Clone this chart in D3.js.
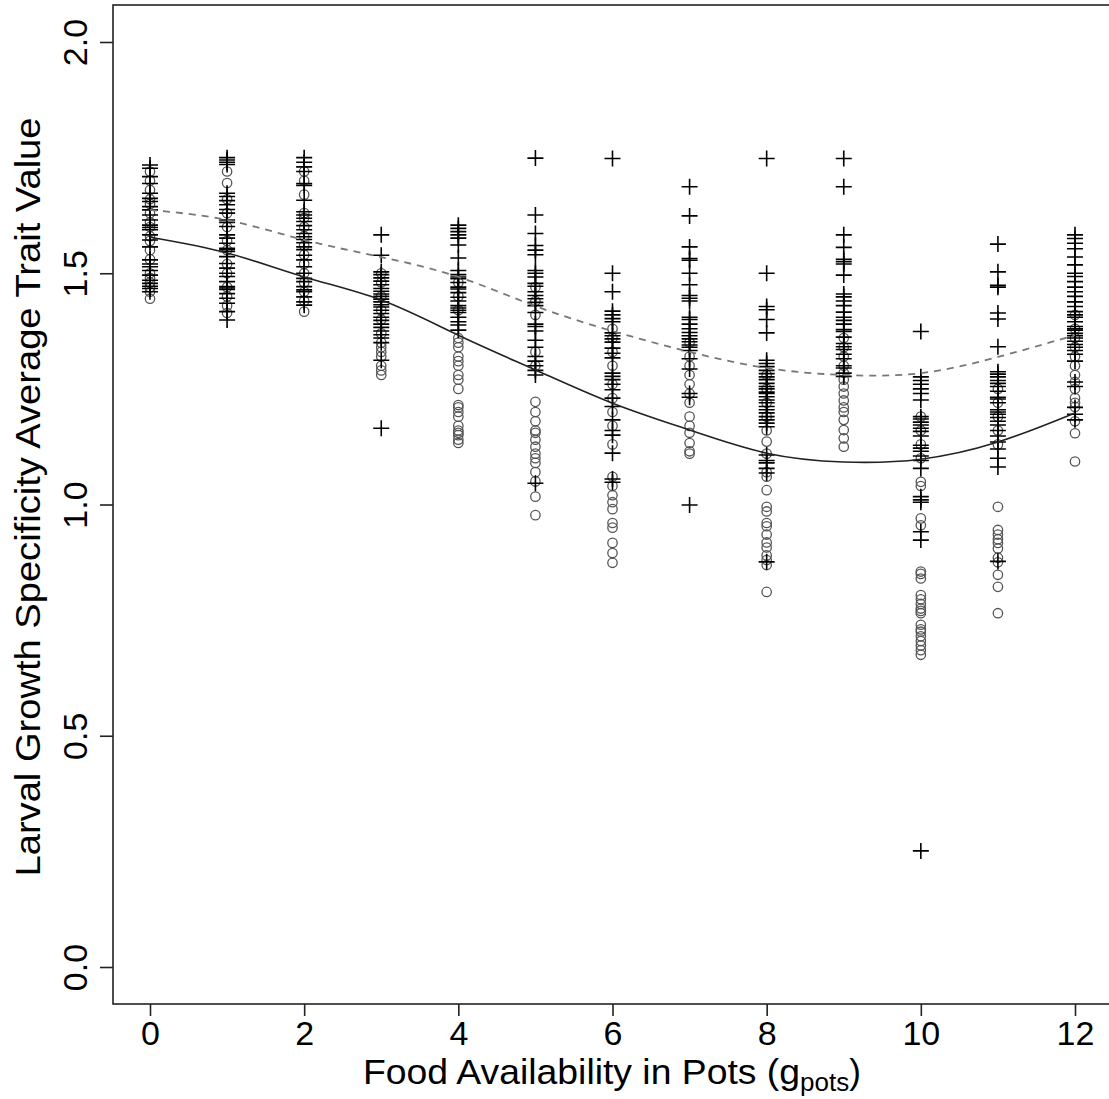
<!DOCTYPE html>
<html>
<head>
<meta charset="utf-8">
<script src="https://cdn.jsdelivr.net/npm/d3@7"></script>
<style>
  body { margin: 0; background: #fff; }
  text { font-family: "Liberation Sans", Arial, sans-serif; fill: #000; }
</style>
</head>
<body>
<div id="chart"></div>
<script>
// food levels (g pots) on the x axis
var foodLevels = [0, 1, 2, 3, 4, 5, 6, 7, 8, 9, 10, 11, 12];

// "+" points, one list per food level
var crossVals = [
  [1.734, 1.727, 1.709, 1.694, 1.673, 1.662, 1.655, 1.644, 1.637, 1.626, 1.615, 1.604, 1.599, 1.594, 1.583, 1.572, 1.557, 1.529, 1.52, 1.514, 1.506, 1.496, 1.485, 1.478, 1.472, 1.467, 1.46],
  [1.75, 1.745, 1.74, 1.735, 1.673, 1.666, 1.657, 1.648, 1.638, 1.63, 1.615, 1.61, 1.601, 1.583, 1.576, 1.565, 1.554, 1.551, 1.547, 1.536, 1.521, 1.511, 1.5, 1.493, 1.482, 1.471, 1.468, 1.465, 1.456, 1.446, 1.435, 1.417, 1.399],
  [1.75, 1.74, 1.73, 1.72, 1.694, 1.69, 1.658, 1.633, 1.626, 1.619, 1.612, 1.603, 1.594, 1.586, 1.579, 1.573, 1.566, 1.557, 1.551, 1.539, 1.529, 1.514, 1.5, 1.489, 1.482, 1.471, 1.464, 1.46, 1.449, 1.438, 1.431],
  [1.583, 1.539, 1.503, 1.497, 1.49, 1.483, 1.475, 1.467, 1.461, 1.455, 1.45, 1.444, 1.438, 1.432, 1.427, 1.42, 1.413, 1.405, 1.398, 1.39, 1.383, 1.375, 1.367, 1.36, 1.35, 1.312, 1.165],
  [1.604, 1.597, 1.59, 1.583, 1.576, 1.561, 1.533, 1.506, 1.497, 1.492, 1.488, 1.48, 1.47, 1.466, 1.458, 1.448, 1.44, 1.43, 1.425, 1.42, 1.415, 1.405, 1.395, 1.388, 1.377],
  [1.749, 1.626, 1.586, 1.56, 1.55, 1.54, 1.506, 1.5, 1.492, 1.478, 1.472, 1.46, 1.452, 1.445, 1.437, 1.43, 1.415, 1.39, 1.385, 1.375, 1.355, 1.34, 1.32, 1.31, 1.3, 1.29, 1.28, 1.046],
  [1.748, 1.5, 1.46, 1.418, 1.41, 1.402, 1.395, 1.371, 1.365, 1.358, 1.351, 1.338, 1.327, 1.317, 1.284, 1.277, 1.27, 1.26, 1.248, 1.23, 1.212, 1.183, 1.16, 1.15, 1.111, 1.055, 1.048],
  [1.687, 1.624, 1.557, 1.532, 1.528, 1.5, 1.475, 1.452, 1.446, 1.44, 1.405, 1.4, 1.39, 1.38, 1.372, 1.365, 1.358, 1.352, 1.345, 1.34, 1.333, 1.315, 1.293, 1.24, 1.232, 0.999],
  [1.748, 1.5, 1.428, 1.421, 1.4, 1.371, 1.312, 1.305, 1.298, 1.29, 1.283, 1.276, 1.27, 1.262, 1.255, 1.25, 1.243, 1.24, 1.233, 1.226, 1.22, 1.212, 1.205, 1.198, 1.19, 1.183, 1.176, 1.168, 1.107, 1.095, 1.09, 1.078, 1.068, 0.876],
  [1.748, 1.687, 1.583, 1.556, 1.53, 1.525, 1.52, 1.496, 1.455, 1.449, 1.44, 1.43, 1.416, 1.405, 1.398, 1.39, 1.378, 1.374, 1.362, 1.348, 1.341, 1.335, 1.325, 1.315, 1.3, 1.295, 1.284, 1.277],
  [1.374, 1.276, 1.268, 1.26, 1.25, 1.24, 1.226, 1.19, 1.185, 1.178, 1.172, 1.165, 1.158, 1.148, 1.128, 1.122, 1.115, 1.105, 1.095, 1.078, 1.017, 1.01, 1.005, 0.941, 0.923, 0.251],
  [1.563, 1.503, 1.474, 1.47, 1.414, 1.401, 1.341, 1.287, 1.282, 1.276, 1.268, 1.262, 1.255, 1.245, 1.232, 1.228, 1.22, 1.205, 1.2, 1.195, 1.188, 1.18, 1.172, 1.16, 1.148, 1.135, 1.12, 1.1, 1.081, 0.877],
  [1.583, 1.575, 1.565, 1.553, 1.535, 1.518, 1.5, 1.493, 1.482, 1.47, 1.46, 1.45, 1.438, 1.428, 1.417, 1.41, 1.405, 1.395, 1.385, 1.38, 1.377, 1.37, 1.365, 1.36, 1.353, 1.346, 1.34, 1.333, 1.325, 1.31, 1.265, 1.255, 1.21, 1.195, 1.183]
];

// open circle points, one list per food level
var circleVals = [
  [1.72, 1.7, 1.68, 1.66, 1.65, 1.63, 1.61, 1.6, 1.58, 1.57, 1.55, 1.53, 1.5, 1.49, 1.48, 1.47, 1.46, 1.445],
  [1.72, 1.695, 1.66, 1.63, 1.6, 1.57, 1.55, 1.52, 1.5, 1.47, 1.45, 1.43, 1.414],
  [1.72, 1.7, 1.67, 1.63, 1.62, 1.6, 1.58, 1.56, 1.54, 1.52, 1.5, 1.48, 1.46, 1.44, 1.417],
  [1.5, 1.48, 1.45, 1.42, 1.4, 1.37, 1.35, 1.34, 1.33, 1.32, 1.3, 1.29, 1.28],
  [1.48, 1.45, 1.42, 1.36, 1.35, 1.34, 1.32, 1.31, 1.3, 1.28, 1.27, 1.25, 1.215, 1.21, 1.2, 1.19, 1.17, 1.16, 1.155, 1.15, 1.14, 1.133],
  [1.47, 1.44, 1.41, 1.33, 1.3, 1.222, 1.2, 1.18, 1.16, 1.155, 1.14, 1.125, 1.11, 1.1, 1.09, 1.07, 1.05, 1.017, 0.977],
  [1.38, 1.36, 1.33, 1.3, 1.26, 1.23, 1.2, 1.17, 1.13, 1.06, 1.04, 1.02, 1.005, 0.99, 0.96, 0.95, 0.917, 0.895, 0.874],
  [1.35, 1.32, 1.3, 1.28, 1.26, 1.24, 1.22, 1.19, 1.17, 1.155, 1.133, 1.115, 1.11],
  [1.28, 1.25, 1.22, 1.19, 1.16, 1.136, 1.11, 1.07, 1.06, 1.031, 0.995, 0.985, 0.96, 0.953, 0.935, 0.918, 0.907, 0.89, 0.88, 0.869, 0.811],
  [1.36, 1.34, 1.32, 1.3, 1.285, 1.27, 1.255, 1.24, 1.225, 1.21, 1.2, 1.183, 1.161, 1.143, 1.125],
  [1.19, 1.16, 1.13, 1.1, 1.049, 1.04, 0.97, 0.955, 0.855, 0.85, 0.84, 0.804, 0.795, 0.785, 0.775, 0.77, 0.765, 0.74, 0.73, 0.725, 0.715, 0.705, 0.695, 0.685, 0.675],
  [1.25, 1.22, 1.19, 1.16, 1.13, 0.995, 0.945, 0.935, 0.925, 0.917, 0.905, 0.885, 0.875, 0.848, 0.822, 0.765],
  [1.41, 1.38, 1.36, 1.34, 1.32, 1.3, 1.28, 1.265, 1.25, 1.23, 1.22, 1.211, 1.18, 1.154, 1.093]
];

// fitted curves read at each food level
var solidFit = [1.578, 1.544, 1.492, 1.442, 1.366, 1.291, 1.219, 1.161, 1.111, 1.092, 1.098, 1.135, 1.198];
var dashedFit = [1.637, 1.615, 1.572, 1.535, 1.492, 1.429, 1.375, 1.33, 1.295, 1.28, 1.284, 1.319, 1.366];

var xTicks = [0, 2, 4, 6, 8, 10, 12];
var yTicks = [0.0, 0.5, 1.0, 1.5, 2.0];

var svgWidth = 1109;
var svgHeight = 1099;

var plot = { left: 113, right: 1112, top: 5, bottom: 1004 };

var svg = d3.select("#chart")
  .append("svg")
  .attr("width", svgWidth)
  .attr("height", svgHeight);

// R style: 4% padding around data range
var xScale = d3.scaleLinear()
  .domain([-0.48, 12.48])
  .range([plot.left, plot.right]);

var yScale = d3.scaleLinear()
  .domain([-0.08, 2.08])
  .range([plot.bottom, plot.top]);

// circles first, crosses on top
var circlePts = [];
var crossPts = [];
foodLevels.forEach(function (f, i) {
  circleVals[i].forEach(function (v) { circlePts.push({ x: f, y: v }); });
  crossVals[i].forEach(function (v) { crossPts.push({ x: f, y: v }); });
});

svg.append("g")
  .selectAll("circle")
  .data(circlePts)
  .enter()
  .append("circle")
  .attr("cx", d => xScale(d.x))
  .attr("cy", d => yScale(d.y))
  .attr("r", 4.7)
  .attr("fill", "none")
  .attr("stroke", "#555")
  .attr("stroke-width", 1.3);

svg.append("g")
  .selectAll("path")
  .data(crossPts)
  .enter()
  .append("path")
  .attr("transform", d => `translate(${xScale(d.x)},${yScale(d.y)})`)
  .attr("d", "M-8,0H8M0,-8V8")
  .attr("stroke", "#000")
  .attr("stroke-width", 1.6)
  .attr("fill", "none");

// fitted lines
var fitLine = d3.line()
  .x((d, i) => xScale(foodLevels[i]))
  .y(d => yScale(d))
  .curve(d3.curveNatural);

svg.append("path")
  .attr("d", fitLine(solidFit))
  .attr("fill", "none")
  .attr("stroke", "#222")
  .attr("stroke-width", 1.6);

svg.append("path")
  .attr("d", fitLine(dashedFit))
  .attr("fill", "none")
  .attr("stroke", "#777")
  .attr("stroke-width", 1.8)
  .attr("stroke-dasharray", "7,6");

// box
svg.append("rect")
  .attr("x", plot.left)
  .attr("y", plot.top)
  .attr("width", plot.right - plot.left)
  .attr("height", plot.bottom - plot.top)
  .attr("fill", "none")
  .attr("stroke", "#222")
  .attr("stroke-width", 1.6);

// x axis
var xAxis = svg.append("g")
  .attr("transform", `translate(0, ${plot.bottom})`)
  .call(d3.axisBottom(xScale).tickValues(xTicks).tickSize(12).tickFormat(d3.format("d")));
xAxis.select(".domain").remove();
xAxis.selectAll("line").attr("stroke", "#222").attr("stroke-width", 1.6);
xAxis.selectAll("text")
  .attr("y", 41)
  .attr("dy", 0)
  .style("font-size", "34px")
  .style("font-family", "'Liberation Sans', Arial, sans-serif")
  .attr("fill", "#000");

// y axis with rotated labels
var yAxis = svg.append("g")
  .attr("transform", `translate(${plot.left}, 0)`)
  .call(d3.axisLeft(yScale).tickValues(yTicks).tickSize(13).tickFormat(d3.format(".1f")));
yAxis.select(".domain").remove();
yAxis.selectAll("line").attr("stroke", "#222").attr("stroke-width", 1.6);
yAxis.selectAll("text")
  .attr("transform", "rotate(-90)")
  .attr("x", 0)
  .attr("y", -26)
  .attr("dy", 0)
  .attr("text-anchor", "middle")
  .style("font-size", "34px")
  .style("font-family", "'Liberation Sans', Arial, sans-serif")
  .attr("fill", "#000");

// axis titles
var xTitle = svg.append("text")
  .attr("x", 363)
  .attr("y", 1084)
  .style("font-size", "35px");
xTitle.append("tspan")
  .attr("textLength", 437)
  .attr("lengthAdjust", "spacingAndGlyphs")
  .text("Food Availability in Pots (g");
xTitle.append("tspan").attr("dy", 7).style("font-size", "26px").text("pots");
xTitle.append("tspan").attr("dy", -7).text(")");

svg.append("text")
  .attr("transform", "translate(40, 497) rotate(-90)")
  .attr("text-anchor", "middle")
  .attr("textLength", 759)
  .attr("lengthAdjust", "spacingAndGlyphs")
  .style("font-size", "35px")
  .text("Larval Growth Specificity Average Trait Value");
</script>
</body>
</html>
